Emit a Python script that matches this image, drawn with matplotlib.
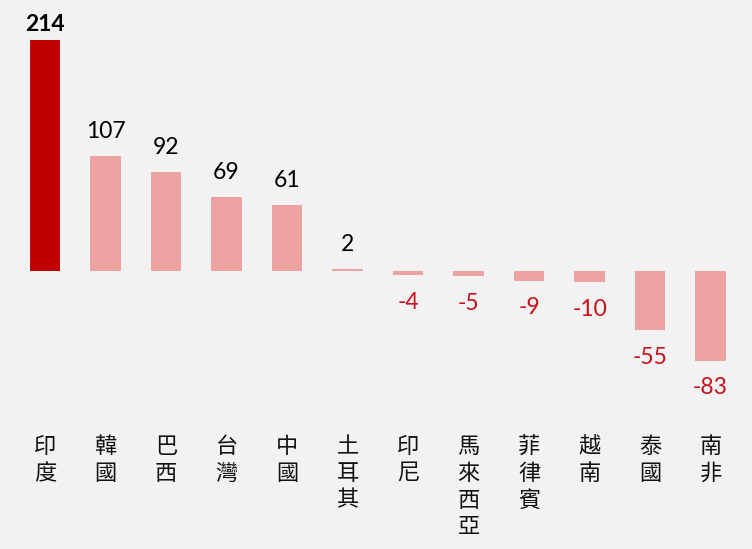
import matplotlib
matplotlib.use("Agg")
import matplotlib.pyplot as plt

categories = ["印度", "韓國", "巴西", "台灣", "中國", "土耳其", "印尼", "馬來西亞", "菲律賓", "越南", "泰國", "南非"]
values = [214, 107, 92, 69, 61, 2, -4, -5, -9, -10, -55, -83]

BG = "#f2f2f2"
DARK = "#c00000"
LIGHT = "#eea3a3"
NEG_TXT = "#c8101a"

fig = plt.figure(figsize=(7.52, 5.49), dpi=100, facecolor=BG)
ax = fig.add_axes([0, 0, 1, 1])
ax.set_facecolor(BG)

x = list(range(len(values)))
colors = [DARK if i == 0 else LIGHT for i in x]
ax.bar(x, values, width=0.51, color=colors)

ax.set_xlim(-0.744, 11.686)
ax.set_ylim(-257.6, 251.2)
ax.axis("off")

num_font = ["Lato", "DejaVu Sans"]
for i, v in enumerate(values):
    if v >= 0:
        off = 4 if i == 0 else 10
        ax.annotate(str(v), (i, v), xytext=(0, off), textcoords="offset points",
                    ha="center", va="bottom", fontsize=16.5, family=num_font,
                    color="black", fontweight="bold" if i == 0 else "normal")
    else:
        ax.annotate(str(v), (i, v), xytext=(0, -12), textcoords="offset points",
                    ha="center", va="top", fontsize=16.5, family=num_font,
                    color=NEG_TXT)

for i, c in enumerate(categories):
    ax.text(i, 0.207, "\n".join(c), transform=ax.get_xaxis_transform(),
            ha="center", va="top", fontsize=16, linespacing=1.2,
            family=["Noto Sans CJK TC", "DejaVu Sans"], fontweight="light",
            color="#111111")

fig.savefig("out.png", dpi=100, facecolor=BG)
